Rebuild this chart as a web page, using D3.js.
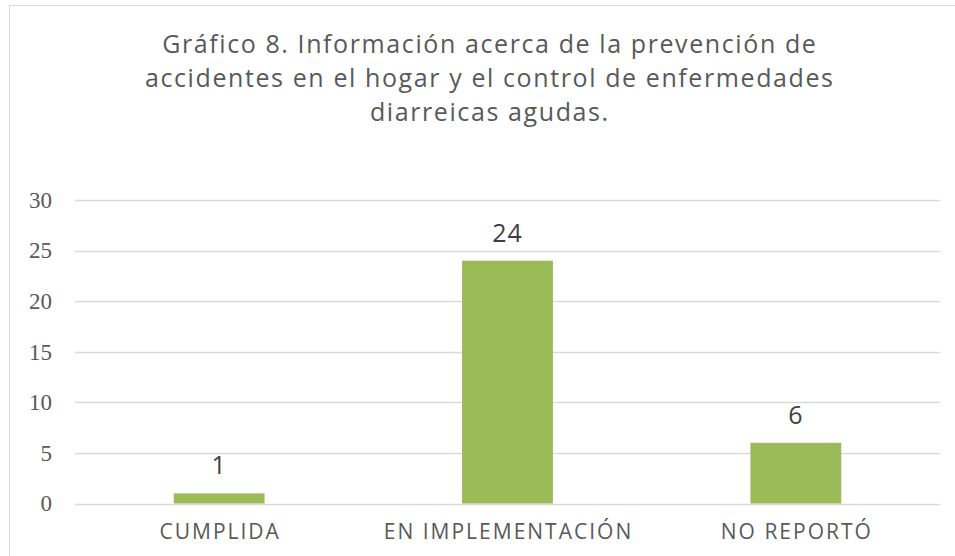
<!DOCTYPE html>
<html>
<head>
<meta charset="utf-8">
<script src="https://cdn.jsdelivr.net/npm/d3@7"></script>
<style>
  body { margin: 0; background: #fff; }
  svg { display: block; }
</style>
</head>
<body>
<div id="chart"></div>
<script>
// data
var categories = ["CUMPLIDA", "EN IMPLEMENTACIÓN", "NO REPORTÓ"];
var values = [1, 24, 6];
var yTicks = [0, 5, 10, 15, 20, 25, 30];
var titleLines = [
  "Gráfico 8. Información acerca de la prevención de",
  "accidentes en el hogar y el control de enfermedades",
  "diarreicas agudas."
];

(function() {
  var W = 955, H = 556;
  var left = 75, right = 940, top = 200, bottom = 503.5;

  var svg = d3.select("#chart").append("svg")
      .attr("width", W)
      .attr("height", H);

  // chart border
  svg.append("rect")
      .attr("x", 9.5).attr("y", 5.5)
      .attr("width", 960).attr("height", 570)
      .attr("fill", "#fff")
      .attr("stroke", "#d9d9d9");

  // title
  svg.append("g").selectAll("text")
      .data(titleLines)
    .enter().append("text")
      .attr("x", 489)
      .attr("dx", 0.8)
      .attr("y", function(d, i) { return 53 + i * 34; })
      .attr("text-anchor", "middle")
      .attr("font-family", "Open Sans, sans-serif")
      .attr("font-size", 25)
      .attr("letter-spacing", 1.6)
      .attr("fill", "#595959")
      .text(function(d) { return d; });

  var x = d3.scaleBand().domain(categories).range([left, right])
      .paddingInner(0.685).paddingOuter(0.3425);
  var y = d3.scaleLinear().domain([0, 30]).range([bottom, top]);

  // gridlines
  svg.append("g").selectAll("line")
      .data(yTicks)
    .enter().append("line")
      .attr("x1", left).attr("x2", right)
      .attr("y1", function(d) { return Math.round(y(d)) + 0.5; })
      .attr("y2", function(d) { return Math.round(y(d)) + 0.5; })
      .attr("stroke", "#d9d9d9")
      .attr("stroke-width", 1.5);

  // y axis
  var yAxis = svg.append("g")
      .attr("transform", "translate(" + (left - 10) + ",0)")
      .call(d3.axisLeft(y).tickValues(yTicks).tickSize(0).tickPadding(13));
  yAxis.select(".domain").remove();
  yAxis.selectAll("text")
      .attr("font-family", "Liberation Serif, DejaVu Serif, serif")
      .attr("font-size", 23)
      .attr("fill", "#595959");

  // x axis
  var xAxis = svg.append("g")
      .attr("transform", "translate(0," + bottom + ")")
      .call(d3.axisBottom(x).tickSize(0).tickPadding(21));
  xAxis.select(".domain").remove();
  xAxis.selectAll("text")
      .attr("font-family", "Open Sans, sans-serif")
      .attr("font-size", 21)
      .attr("letter-spacing", 2)
      .attr("dx", 1)
      .attr("fill", "#595959");

  // bars
  svg.append("g").selectAll("rect")
      .data(values)
    .enter().append("rect")
      .attr("x", function(d, i) { return x(categories[i]); })
      .attr("width", x.bandwidth())
      .attr("y", function(d) { return y(d); })
      .attr("height", function(d) { return bottom - y(d); })
      .attr("fill", "#9bbb59");

  // value labels
  svg.append("g").selectAll("text")
      .data(values)
    .enter().append("text")
      .attr("x", function(d, i) { return x(categories[i]) + x.bandwidth() / 2; })
      .attr("y", function(d) { return y(d) - 19; })
      .attr("text-anchor", "middle")
      .attr("font-family", "Open Sans, sans-serif")
      .attr("font-size", 25)
      .attr("letter-spacing", 1)
      .attr("fill", "#404040")
      .text(function(d) { return d; });
})();
</script>
</body>
</html>
